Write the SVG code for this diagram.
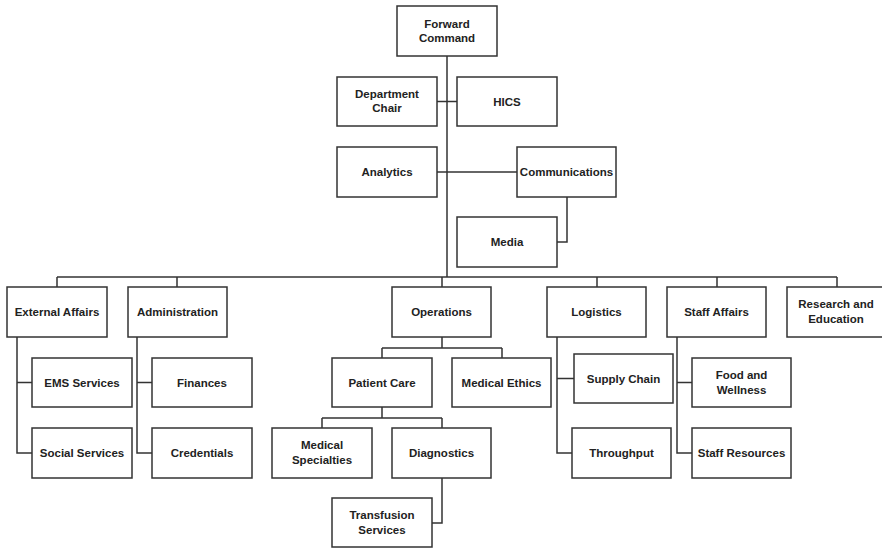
<svg xmlns="http://www.w3.org/2000/svg" width="882" height="548" viewBox="0 0 882 548">
<style>
rect{fill:#fff;stroke:#333;stroke-width:1.5}
text{font-family:"Liberation Sans",Arial,sans-serif;font-weight:bold;font-size:11.5px;fill:#222;text-anchor:middle}
.c path{fill:none;stroke:#333;stroke-width:1.5}
</style>
<rect x="0" y="0" width="882" height="548" style="stroke:none"/>
<g class="c" id="connectors">
<path d="M447,56V277"/>
<path d="M437,101.5H457"/>
<path d="M437,172H517"/>
<path d="M567,197V242H557"/>
<path d="M57,277H837"/>
<path d="M57,277V287M177,277V287M442,277V287M597,277V287M717,277V287M837,277V287"/>
<path d="M17,337V453H32M17,382.5H32"/>
<path d="M137,337V453H152M137,382.5H152"/>
<path d="M442,337V348M382,348H502M382,348V358M502,348V358"/>
<path d="M382,407V418M322,418H442M322,418V428M442,418V428"/>
<path d="M442,478V523H432"/>
<path d="M557,337V453H572M557,378.5H574"/>
<path d="M677,337V453H692M677,382.5H692"/>
</g>
<g id="forward-command"><rect x="397" y="6" width="100" height="50"/><text x="447" y="28">Forward</text><text x="447" y="42">Command</text></g>
<g id="department-chair"><rect x="337" y="77" width="100" height="49"/><text x="387" y="98">Department</text><text x="387" y="112">Chair</text></g>
<g id="hics"><rect x="457" y="77" width="100" height="49"/><text x="507" y="105.5">HICS</text></g>
<g id="analytics"><rect x="337" y="147" width="100" height="50"/><text x="387" y="176">Analytics</text></g>
<g id="communications"><rect x="517" y="147" width="99" height="50"/><text x="566.5" y="176">Communications</text></g>
<g id="media"><rect x="457" y="217" width="100" height="50"/><text x="507" y="246">Media</text></g>
<g id="external-affairs"><rect x="7" y="287" width="100" height="50"/><text x="57" y="316">External Affairs</text></g>
<g id="administration"><rect x="128" y="287" width="99" height="50"/><text x="177.5" y="316">Administration</text></g>
<g id="operations"><rect x="392" y="287" width="99" height="50"/><text x="441.5" y="316">Operations</text></g>
<g id="logistics"><rect x="547" y="287" width="99" height="50"/><text x="596.5" y="316">Logistics</text></g>
<g id="staff-affairs"><rect x="667" y="287" width="99" height="50"/><text x="716.5" y="316">Staff Affairs</text></g>
<g id="research-education"><rect x="787" y="287" width="100" height="50"/><text x="836" y="308">Research and</text><text x="836" y="323">Education</text></g>
<g id="ems-services"><rect x="32" y="358" width="100" height="49"/><text x="82" y="386.5">EMS Services</text></g>
<g id="social-services"><rect x="32" y="428" width="100" height="50"/><text x="82" y="457">Social Services</text></g>
<g id="finances"><rect x="152" y="358" width="100" height="49"/><text x="202" y="386.5">Finances</text></g>
<g id="credentials"><rect x="152" y="428" width="100" height="50"/><text x="202" y="457">Credentials</text></g>
<g id="patient-care"><rect x="332" y="358" width="100" height="49"/><text x="382" y="386.5">Patient Care</text></g>
<g id="medical-ethics"><rect x="452" y="358" width="99" height="49"/><text x="501.5" y="386.5">Medical Ethics</text></g>
<g id="medical-specialties"><rect x="272" y="428" width="100" height="50"/><text x="322" y="449">Medical</text><text x="322" y="464">Specialties</text></g>
<g id="diagnostics"><rect x="392" y="428" width="99" height="50"/><text x="441.5" y="457">Diagnostics</text></g>
<g id="transfusion-services"><rect x="332" y="498" width="100" height="49"/><text x="382" y="519">Transfusion</text><text x="382" y="534">Services</text></g>
<g id="supply-chain"><rect x="574" y="354" width="99" height="49"/><text x="623.5" y="382.5">Supply Chain</text></g>
<g id="throughput"><rect x="572" y="428" width="99" height="50"/><text x="621.5" y="457">Throughput</text></g>
<g id="food-wellness"><rect x="692" y="358" width="99" height="49"/><text x="741.5" y="379">Food and</text><text x="741.5" y="394">Wellness</text></g>
<g id="staff-resources"><rect x="692" y="428" width="99" height="50"/><text x="741.5" y="457">Staff Resources</text></g>
</svg>
